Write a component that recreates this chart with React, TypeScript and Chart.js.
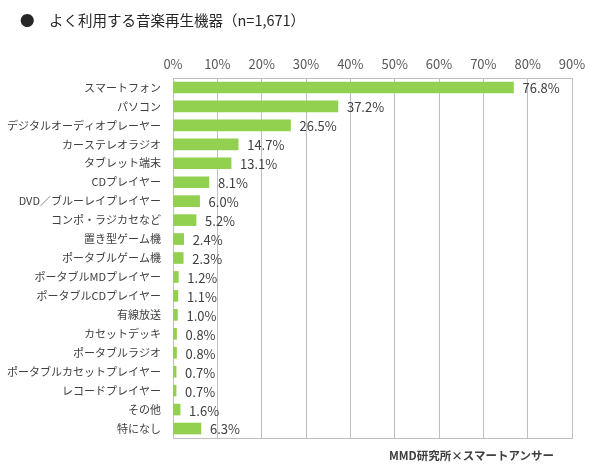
import React, { useEffect, useRef } from "react";
import { Chart, registerables } from "chart.js";

Chart.register(...registerables);

const titleText = "●　よく利用する音楽再生機器（n=1,671）";
const sourceText = "MMD研究所×スマートアンサー";
const categories = [
  "スマートフォン",
  "パソコン",
  "デジタルオーディオプレーヤー",
  "カーステレオラジオ",
  "タブレット端末",
  "CDプレイヤー",
  "DVD／ブルーレイプレイヤー",
  "コンポ・ラジカセなど",
  "置き型ゲーム機",
  "ポータブルゲーム機",
  "ポータブルMDプレイヤー",
  "ポータブルCDプレイヤー",
  "有線放送",
  "カセットデッキ",
  "ポータブルラジオ",
  "ポータブルカセットプレイヤー",
  "レコードプレイヤー",
  "その他",
  "特になし",
];
const values = [76.8, 37.2, 26.5, 14.7, 13.1, 8.1, 6.0, 5.2, 2.4, 2.3, 1.2, 1.1, 1.0, 0.8, 0.8, 0.7, 0.7, 1.6, 6.3];
const xMax = 90;
const xStep = 10;

const FONT = "'Noto Sans CJK JP', 'Noto Sans', sans-serif";

const labelPlugin = {
  id: "barLabels",
  afterDatasetsDraw(chart: any) {
    const ctx = chart.ctx;
    const meta = chart.getDatasetMeta(0);
    ctx.save();
    ctx.font = `13px ${FONT}`;
    ctx.fillStyle = "#404040";
    ctx.textAlign = "left";
    ctx.textBaseline = "middle";
    meta.data.forEach((el: any, i: number) => {
      ctx.fillText(values[i].toFixed(1) + "%", el.x + 9, el.y + 1);
    });
    ctx.restore();
  },
};

export default function App() {
  const ref = useRef<HTMLCanvasElement | null>(null);
  useEffect(() => {
    if (!ref.current) return;
    const chart = new Chart(ref.current, {
      type: "bar",
      data: {
        labels: categories,
        datasets: [
          {
            data: values,
            backgroundColor: "#92d050",
            borderWidth: 0,
            barThickness: 11,
          },
        ],
      },
      plugins: [labelPlugin],
      options: {
        indexAxis: "y",
        animation: false,
        responsive: false,
        layout: { padding: { left: 0, right: 28, top: 0, bottom: 29 } },
        plugins: { legend: { display: false }, tooltip: { enabled: false } },
        scales: {
          x: {
            position: "top",
            min: 0,
            max: xMax,
            ticks: {
              stepSize: xStep,
              padding: 6,
              color: "#595959",
              font: { family: FONT, size: 13 },
              callback: (v: any) => v + "%",
            },
            grid: { color: "#bfbfbf", drawTicks: false, lineWidth: 1 },
            border: { display: true, color: "#bfbfbf" },
            afterFit: (s: any) => {
              s.height = 78;
            },
          },
          y: {
            ticks: {
              padding: 12,
              color: "#404040",
              font: { family: FONT, size: 11 },
            },
            grid: { display: false, drawTicks: false },
            border: { display: true, color: "#bfbfbf" },
            afterFit: (s: any) => {
              s.width = 173;
            },
          },
          x2: {
            position: "bottom",
            min: 0,
            max: xMax,
            ticks: { display: false },
            grid: { display: false, drawTicks: false },
            border: { display: true, color: "#bfbfbf" },
            afterFit: (s: any) => {
              s.height = 0;
            },
          },
        } as any,
      },
    });
    return () => chart.destroy();
  }, []);
  return (
    <div style={{ position: "absolute", left: 0, top: 0, width: 600, height: 467, background: "#fff" }}>
      <canvas ref={ref} width={600} height={467} style={{ position: "absolute", left: 0, top: 0 }} />
      <div
        style={{
          position: "absolute",
          left: 20,
          top: 9,
          fontFamily: FONT,
          fontSize: 14.5,
          color: "#262626",
          whiteSpace: "nowrap",
        }}
      >
        {titleText}
      </div>
      <div
        style={{
          position: "absolute",
          right: 46,
          top: 447,
          fontFamily: FONT,
          fontSize: 11.5,
          fontWeight: "bold",
          color: "#404040",
          whiteSpace: "nowrap",
        }}
      >
        {sourceText}
      </div>
    </div>
  );
}
